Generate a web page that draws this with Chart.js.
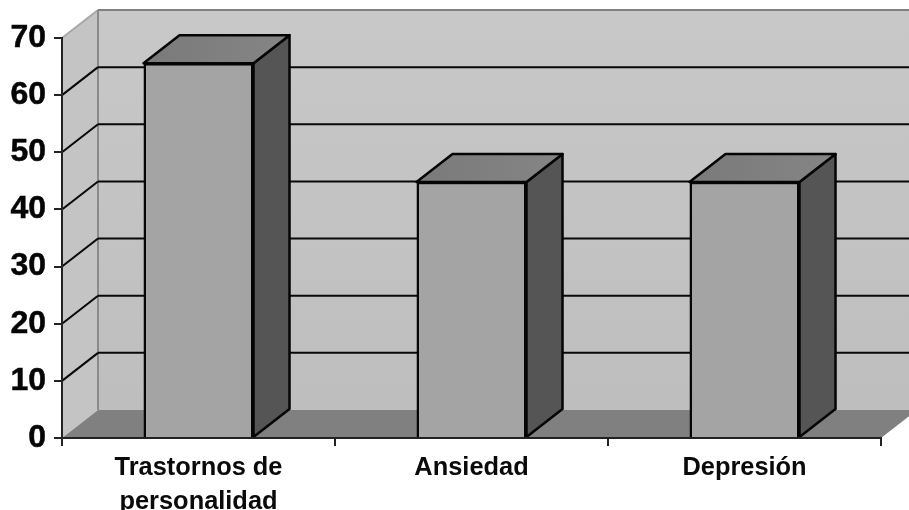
<!DOCTYPE html>
<html>
<head>
<meta charset="utf-8">
<style>
	html, body { margin: 0; padding: 0; background: #fff; overflow: hidden; }
	canvas { display: block; filter: blur(0.45px); }
</style>
<script src="https://cdn.jsdelivr.net/npm/chart.js@4"></script>
</head>
<body>
<canvas id="chartCanvas" width="909" height="510"></canvas>
<script>
var categories = [["Trastornos de", "personalidad"], "Ansiedad", "Depresión"];
var values = [65.6, 44.8, 44.8];
var yTicks = [0, 10, 20, 30, 40, 50, 60, 70];

// Depth of the fake 3D box
var depthX = 36;
var depthY = 28;

function drawPoly(ctx, points, fill, stroke, lineWidth) {
	ctx.beginPath();
	ctx.moveTo(points[0][0], points[0][1]);
	for (var i = 1; i < points.length; i++) {
		ctx.lineTo(points[i][0], points[i][1]);
	}
	ctx.closePath();
	if (fill) {
		ctx.fillStyle = fill;
		ctx.fill();
	}
	if (stroke) {
		ctx.strokeStyle = stroke;
		ctx.lineWidth = lineWidth;
		ctx.lineJoin = "round";
		ctx.stroke();
	}
}

function drawLine(ctx, x1, y1, x2, y2, color, width) {
	ctx.beginPath();
	ctx.moveTo(x1, y1);
	ctx.lineTo(x2, y2);
	ctx.strokeStyle = color;
	ctx.lineWidth = width;
	ctx.stroke();
}

// Back wall, side wall, floor and the grid lines on them
var wallsPlugin = {
	id: "walls",
	beforeDraw: function(chart) {
		var ctx = chart.ctx;
		var area = chart.chartArea;
		var yScale = chart.scales.y;
		var left = area.left, right = area.right, top = area.top, bottom = area.bottom;

		ctx.save();
		var wallFill = ctx.createLinearGradient(0, top - depthY, 0, bottom - depthY);
		wallFill.addColorStop(0, "#c8c8c8");
		wallFill.addColorStop(1, "#bebebe");
		drawPoly(ctx, [[left + depthX, top - depthY], [right + depthX, top - depthY], [right + depthX, bottom - depthY], [left + depthX, bottom - depthY]], wallFill);
		drawPoly(ctx, [[left, top], [left + depthX, top - depthY], [left + depthX, bottom - depthY], [left, bottom]], "#c4c4c4");
		drawPoly(ctx, [[left, bottom], [left + depthX, bottom - depthY], [right + depthX, bottom - depthY], [right, bottom]], "#808080");

		drawLine(ctx, left + depthX, top - depthY, right + depthX, top - depthY, "#808080", 2);
		drawLine(ctx, left, top, left + depthX, top - depthY, "#a8a8a8", 2);
		drawLine(ctx, left + depthX, top - depthY, left + depthX, bottom - depthY, "#8a8a8a", 2);

		yTicks.forEach(function(t) {
			if (t === 0 || t === yTicks[yTicks.length - 1]) return;
			var y = yScale.getPixelForValue(t);
			drawLine(ctx, left, y, left + depthX, y - depthY, "#080808", 2);
			drawLine(ctx, left + depthX, y - depthY, right + depthX, y - depthY, "#080808", 2);
		});
		ctx.restore();
	},
	// Top and side faces of every bar, taken from the bar elements
	beforeDatasetsDraw: function(chart) {
		var ctx = chart.ctx;
		var bars = chart.getDatasetMeta(0).data;
		ctx.save();
		bars.forEach(function(bar) {
			var x1 = bar.x - bar.width / 2;
			var x2 = bar.x + bar.width / 2;
			var topFill = ctx.createLinearGradient(x1, 0, x2 + depthX, 0);
			topFill.addColorStop(0, "#7a7a7a");
			topFill.addColorStop(1, "#858585");
			drawPoly(ctx, [[x2, bar.y], [x2 + depthX, bar.y - depthY], [x2 + depthX, bar.base - depthY], [x2, bar.base]], "#555555", "#050505", 2.5);
			drawPoly(ctx, [[x1, bar.y], [x1 + depthX, bar.y - depthY], [x2 + depthX, bar.y - depthY], [x2, bar.y]], topFill, "#050505", 2.5);
		});
		ctx.restore();
	}
};

var chartCtx = document.getElementById("chartCanvas").getContext("2d");
var chart = new Chart(chartCtx, {
	type: "bar",
	data: {
		labels: categories,
		datasets: [{
			data: values,
			backgroundColor: "#a4a4a4",
			borderColor: "#050505",
			borderWidth: 2.5,
			borderSkipped: "bottom",
			categoryPercentage: 1,
			barPercentage: 0.403
		}]
	},
	options: {
		responsive: false,
		animation: false,
		layout: { padding: { left: 0, right: 28, top: 38, bottom: 0 } },
		plugins: { legend: { display: false }, tooltip: { enabled: false } },
		scales: {
			x: {
				afterFit: function(scale) { scale.height = 72; },
				grid: { drawOnChartArea: false, drawTicks: true, tickLength: 8, color: "#222", lineWidth: 2, offset: true },
				border: { display: true, color: "#222", width: 2, z: 1 },
				ticks: {
					color: "#0a0a0a",
					padding: 5,
					maxRotation: 0,
					autoSkip: false,
					font: { family: "'Liberation Sans'", size: 25.4, weight: "bold", lineHeight: 1.33 }
				}
			},
			y: {
				min: 0,
				max: 70,
				afterFit: function(scale) { scale.width = 62; },
				afterBuildTicks: function(scale) {
					scale.ticks = yTicks.map(function(t) { return { value: t }; });
				},
				grid: { drawOnChartArea: false, drawTicks: true, tickLength: 8, color: "#222", lineWidth: 2 },
				border: { display: true, color: "#222", width: 2 },
				ticks: {
					color: "#050505",
					padding: 8,
					textStrokeColor: "#050505",
					textStrokeWidth: 0.5,
					font: { family: "'Liberation Sans'", size: 32, weight: "bold" }
				}
			}
		}
	},
	plugins: [wallsPlugin]
});
</script>
</body>
</html>
